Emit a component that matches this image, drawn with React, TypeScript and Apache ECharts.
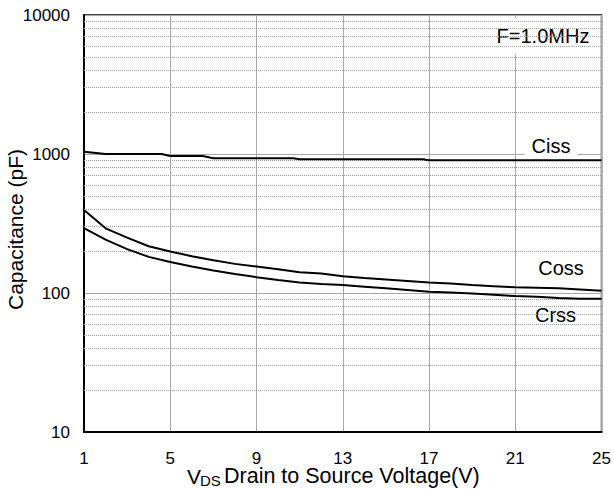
import { useEffect, useRef } from "react";
import * as echarts from "echarts";

// V_DS (V) sample points and capacitances (pF)
const cissV = [1, 2, 4.6, 5, 6.5, 7, 10.7, 11, 16.7, 17, 25];
const cissC = [1040, 1000, 1000, 967, 967, 931, 931, 916, 916, 900, 900];

const vds = [1, 2, 3, 4, 5, 6, 7, 8, 9, 10, 11, 12, 13, 14, 15, 16, 17, 18, 19, 20, 21, 22, 23, 24, 25];
const cossC = [396, 292, 250, 217, 199, 184, 172, 162, 155, 148, 141, 138, 132, 128, 125, 122, 119, 117, 114, 112, 110, 109, 108, 106, 104];
const crssC = [293, 242, 207, 182, 167, 155, 145, 137, 130, 124, 119, 116, 114, 111, 108, 105, 102, 101, 99, 97, 95, 94, 92, 91, 91];

// log minor grid values
const yMinorGrid = [20, 30, 40, 50, 60, 70, 80, 90, 200, 300, 400, 500, 600, 700, 800, 900, 2000, 3000, 4000, 5000, 6000, 7000, 8000, 9000];

const FONT = "'Liberation Sans', Arial, sans-serif";

export default function App() {
  const ref = useRef<HTMLDivElement>(null);

  useEffect(() => {
    if (!ref.current) return;
    const chart = echarts.init(ref.current, undefined, { renderer: "svg" });

    const lineSeries = (name: string, xs: number[], ys: number[]) => ({
      name,
      type: "line",
      data: xs.map((x, i) => [x, ys[i]]),
      showSymbol: false,
      symbol: "none",
      smooth: false,
      z: 10,
      lineStyle: { color: "#000", width: 2 },
      silent: true,
    });

    const labelText = (text: string, x: number, y: number, pad: number[]) => ({
      type: "text",
      x,
      y,
      z: 5,
      silent: true,
      style: {
        text,
        fontSize: 20,
        fontFamily: FONT,
        fill: "#000",
        align: "center",
        verticalAlign: "middle",
        backgroundColor: "#fff",
        padding: pad,
      },
    });

    const titleText = (text: string, x: number, y: number, fontSize: number, lineHeight: number) => ({
      type: "text",
      x,
      y,
      silent: true,
      style: {
        text,
        fontSize,
        lineHeight,
        fontFamily: FONT,
        fill: "#000",
        align: "left",
        verticalAlign: "middle",
      },
    });

    chart.setOption({
      animation: false,
      backgroundColor: "#fff",
      textStyle: { fontFamily: FONT },
      grid: {
        left: 84,
        right: 11,
        top: 15,
        bottom: 57,
        show: true,
        borderColor: "#000",
        borderWidth: 1.5,
        backgroundColor: "transparent",
      },
      xAxis: {
        type: "value",
        min: 1,
        max: 25,
        interval: 4,
        axisLine: { show: true, onZero: false, lineStyle: { color: "#000", width: 2 } },
        axisTick: { show: false },
        axisLabel: { color: "#000", fontSize: 17, lineHeight: 12, margin: 20, fontFamily: FONT },
        splitLine: { show: true, lineStyle: { color: "#a8a8a8", width: 1 } },
      },
      yAxis: {
        type: "log",
        logBase: 10,
        min: 10,
        max: 10000,
        axisLine: { show: true, onZero: false, lineStyle: { color: "#000", width: 2 } },
        axisTick: { show: false },
        axisLabel: {
          color: "#000",
          fontSize: 17,
          margin: 14,
          fontFamily: FONT,
          formatter: (v: number) => String(Math.round(v)),
        },
        splitLine: { show: true, lineStyle: { color: "#a8a8a8", width: 1 } },
      },
      series: [
        {
          name: "minor",
          type: "line",
          data: [],
          z: 1,
          silent: true,
          markLine: {
            silent: true,
            symbol: ["none", "none"],
            label: { show: false },
            lineStyle: { type: "dotted", color: "#9a9a9a", width: 1 },
            emphasis: { disabled: true },
            data: yMinorGrid.map((v) => ({ yAxis: v })),
          },
        },
        lineSeries("Ciss", cissV, cissC),
        lineSeries("Coss", vds, cossC),
        lineSeries("Crss", vds, crssC),
      ],
      graphic: [
        labelText("F=1.0MHz", 543, 36, [8, 6]),
        labelText("Ciss", 551, 145.5, [3, 7]),
        labelText("Coss", 561, 268, [4, 8]),
        labelText("Crss", 555.5, 314.5, [4, 8]),
        {
          type: "text",
          x: 15,
          y: 229.5,
          rotation: Math.PI / 2,
          silent: true,
          style: {
            text: "Capacitance (pF)",
            fontSize: 21,
            fontFamily: FONT,
            fill: "#000",
            align: "center",
            verticalAlign: "middle",
          },
        },
        titleText("V", 187, 476, 21, 15),
        titleText("DS", 200, 480.7, 15, 11),
        titleText("Drain to Source Voltage(V)", 224, 476, 21.5, 15),
      ],
    });

    return () => chart.dispose();
  }, []);

  return (
    <div
      ref={ref}
      style={{ position: "fixed", left: 0, top: 0, width: 614, height: 489, background: "#fff" }}
    />
  );
}
